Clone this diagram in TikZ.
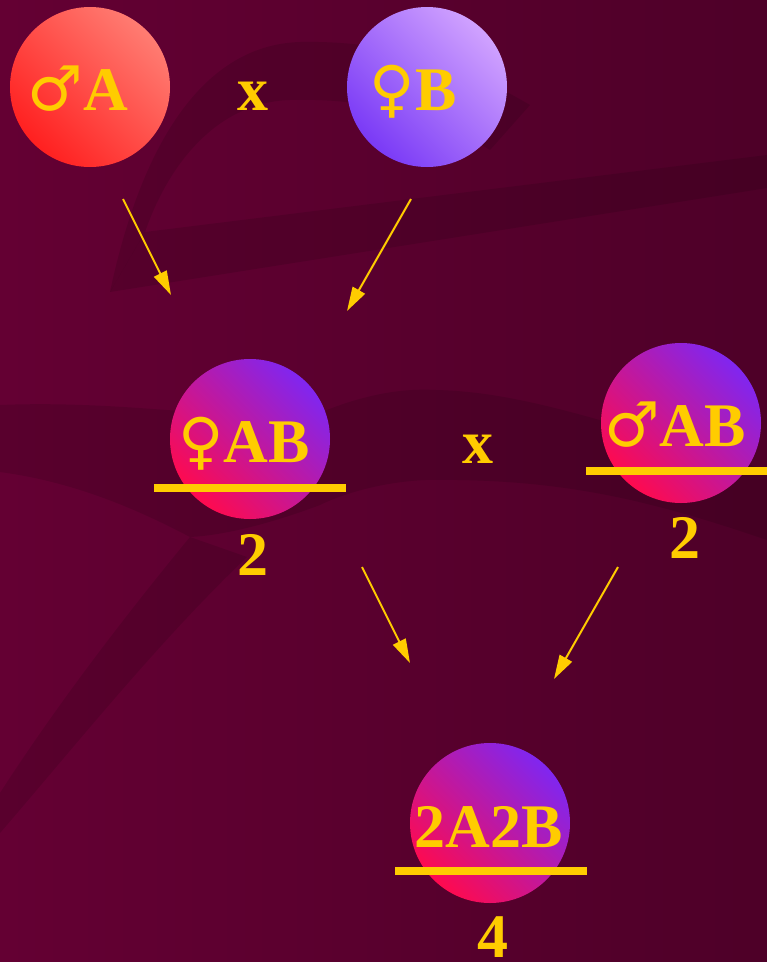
\documentclass[tikz,border=0pt]{standalone}
\usepackage{fontspec}
\setmainfont{Liberation Serif}
\newfontfamily\symfont{DejaVu Sans}
\usetikzlibrary{arrows.meta}
\definecolor{txt}{HTML}{FFCC00}
\definecolor{bgL}{HTML}{640033}
\definecolor{bgR}{HTML}{4E0028}
\definecolor{redA}{HTML}{FF2020}
\definecolor{redB}{HTML}{FF7C72}
\definecolor{bluA}{HTML}{7A3AF6}
\definecolor{bluB}{HTML}{D0A2FF}
\definecolor{mixA}{HTML}{FF0A4E}
\definecolor{mixM}{HTML}{C81EBE}
\definecolor{mixB}{HTML}{8026F0}
\begin{document}
\begin{tikzpicture}[x=1pt,y=-1pt,
  lbl/.style={text=txt,font=\fontsize{62}{70}\selectfont\bfseries,anchor=base,inner sep=0pt},
  bar/.style={draw=txt,line width=8pt},
  arr/.style={draw=txt,line width=2pt,-{Triangle[length=24pt,width=14pt]}},
  ball/.style={circle,minimum size=160pt,inner sep=0pt},
  redball/.style={ball,top color=redB,bottom color=redA,shading angle=-45},
  bluball/.style={ball,top color=bluB,bottom color=bluA,shading angle=-45},
  mixball/.style={ball,top color=mixB,middle color=mixM,bottom color=mixA,shading angle=-45},
  swoosh/.style={fill=black,fill opacity=0.11}]
\useasboundingbox (0,0) rectangle (767,962);
% background
\shade[left color=bgL,right color=bgR] (0,0) rectangle (767,962);
\fill[swoosh] (110,292) .. controls (140,150) and (200,45) .. (300,42)
  .. controls (400,40) and (470,70) .. (530,105) -- (490,150)
  .. controls (430,112) and (360,98) .. (290,100)
  .. controls (220,102) and (170,160) .. (145,232) -- cycle;
\fill[swoosh] (110,292) -- (767,188) -- (767,155) -- (145,232) -- cycle;
\fill[swoosh] (0,405) .. controls (120,400) and (230,420) .. (310,417)
  .. controls (360,395) and (400,388) .. (436,390)
  .. controls (520,392) and (600,420) .. (767,470) -- (767,540)
  .. controls (650,500) and (560,478) .. (425,480)
  .. controls (380,482) and (340,495) .. (320,505)
  .. controls (280,520) and (230,535) .. (190,537)
  .. controls (120,500) and (60,480) .. (0,472) -- cycle;
\fill[swoosh] (0,793) .. controls (60,700) and (130,610) .. (190,537) -- (247,557)
  .. controls (160,640) and (80,740) .. (0,833) -- cycle;
% balls
\node[redball] (pA) at (90,87) {};
\node[bluball] (pB) at (427,87) {};
\node[mixball] (fAB) at (250,439) {};
\node[mixball] (mAB) at (681,423) {};
\node[mixball] (res) at (490,823) {};
% labels
\node[lbl] (tA) at (78,110) {{\symfont\mdseries ♂}A};
\node[lbl] (x1) at (253,110) {x};
\node[lbl] (tB) at (413,110) {{\symfont\mdseries ♀}B};
\node[lbl] (tfAB) at (244,462) {{\symfont\mdseries ♀}AB};
\node[lbl] (x2) at (478,463) {x};
\node[lbl] (tmAB) at (675,446) {{\symfont\mdseries ♂}AB};
\node[lbl] (tres) at (489,847) {2A2B};
\node[lbl] (n1) at (253,575) {2};
\node[lbl] (n2) at (685,558) {2};
\node[lbl] (n3) at (493,957) {4};
% bars
\coordinate (b1l) at (154,488); \coordinate (b1r) at (346,488);
\coordinate (b2l) at (586,471); \coordinate (b2r) at (767,471);
\coordinate (b3l) at (395,871); \coordinate (b3r) at (587,871);
\draw[bar] (b1l) -- (b1r);
\draw[bar] (b2l) -- (b2r);
\draw[bar] (b3l) -- (b3r);
% arrows
\coordinate (a1s) at (123,199); \coordinate (a1e) at (171,295);
\coordinate (a2s) at (411,199); \coordinate (a2e) at (347,311);
\coordinate (a3s) at (362,567); \coordinate (a3e) at (410,663);
\coordinate (a4s) at (618,567); \coordinate (a4e) at (554,679);
\draw[arr] (a1s) -- (a1e);
\draw[arr] (a2s) -- (a2e);
\draw[arr] (a3s) -- (a3e);
\draw[arr] (a4s) -- (a4e);
\end{tikzpicture}
\end{document}
